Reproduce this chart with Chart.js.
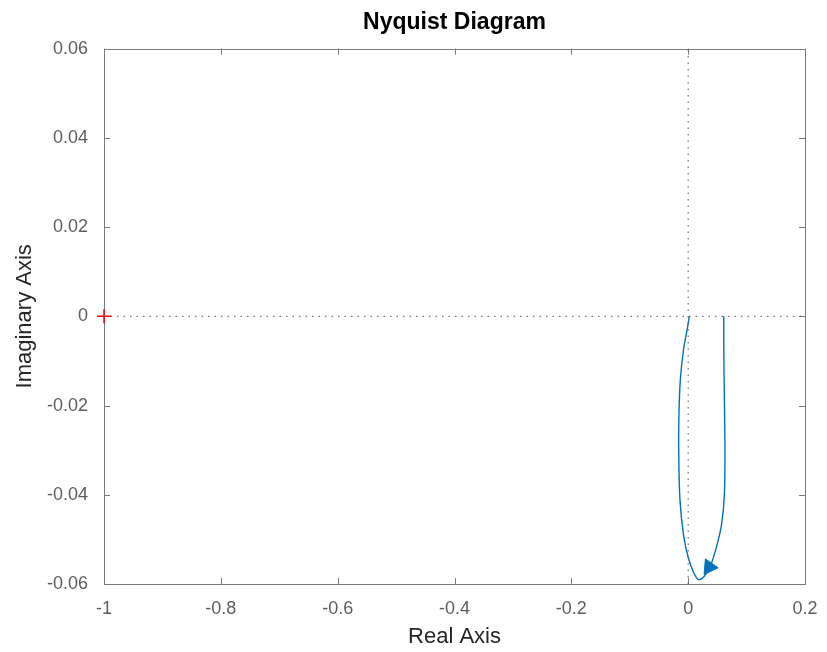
<!DOCTYPE html>
<html>
<head>
<meta charset="utf-8">
<script src="https://cdn.jsdelivr.net/npm/chart.js@4.4.1/dist/chart.umd.min.js"></script>
<style>
  html, body { margin: 0; padding: 0; background: #fff; }
  #wrap { width: 827px; height: 652px; }
</style>
</head>
<body>
<div id="wrap"><canvas id="nyq"></canvas></div>
<script>
// Nyquist curve (real / imaginary parts)
const nyqRe = [0.002, -0.001, -0.008, -0.0134, -0.016, -0.016, -0.014, -0.008, 0.000, 0.009, 0.0175, 0.028, 0.038, 0.048, 0.057, 0.062, 0.063, 0.062, 0.061, 0.061];
const nyqIm = [0, -0.0024, -0.0075, -0.0142, -0.0232, -0.0322, -0.0412, -0.0490, -0.0540, -0.0573, -0.0590, -0.0582, -0.0560, -0.0519, -0.0468, -0.0400, -0.0299, -0.0187, -0.0075, 0];
const arrowRe = [0.036];
const arrowIm = [-0.0562];
const criticalRe = [-1];
const criticalIm = [0];

const xTicks = [-1, -0.8, -0.6, -0.4, -0.2, 0, 0.2];
const xTickLabels = ['-1', '-0.8', '-0.6', '-0.4', '-0.2', '0', '0.2'];
const yTicks = [-0.06, -0.04, -0.02, 0, 0.02, 0.04, 0.06];
const yTickLabels = ['-0.06', '-0.04', '-0.02', '0', '0.02', '0.04', '0.06'];

const FONT = "'Liberation Sans', Arial, Helvetica, sans-serif";
const toPts = (xs, ys) => xs.map((v, i) => ({ x: v, y: ys[i] }));

// MATLAB style box with inward tick marks on all four sides
const boxPlugin = {
    id: 'matlabBox',
    beforeDatasetsDraw(chart) {
        const { ctx, chartArea: a, scales: { x, y } } = chart;
        ctx.save();
        ctx.strokeStyle = '#7a7a7a';
        ctx.lineWidth = 1;
        ctx.strokeRect(Math.round(a.left) + 0.5, Math.round(a.top) + 0.5,
            Math.round(a.right - a.left), Math.round(a.bottom - a.top));
        ctx.beginPath();
        xTicks.forEach(v => {
            const px = Math.round(x.getPixelForValue(v)) + 0.5;
            ctx.moveTo(px, a.bottom); ctx.lineTo(px, a.bottom - 6);
            ctx.moveTo(px, a.top); ctx.lineTo(px, a.top + 6);
        });
        yTicks.forEach(v => {
            const py = Math.round(y.getPixelForValue(v)) + 0.5;
            ctx.moveTo(a.left, py); ctx.lineTo(a.left + 6, py);
            ctx.moveTo(a.right, py); ctx.lineTo(a.right - 6, py);
        });
        ctx.stroke();
        ctx.restore();
    }
};

new Chart(document.getElementById('nyq'), {
    type: 'scatter',
    data: {
        datasets: [
            {
                label: 'zero-im',
                data: [{ x: -1, y: 0 }, { x: 0.2, y: 0 }],
                showLine: true, pointRadius: 0,
                borderColor: '#555', borderWidth: 1, borderDash: [1.5, 5]
            },
            {
                label: 'zero-re',
                data: [{ x: 0, y: -0.06 }, { x: 0, y: 0.06 }],
                showLine: true, pointRadius: 0,
                borderColor: '#555', borderWidth: 1, borderDash: [1.5, 5]
            },
            {
                label: 'nyquist',
                data: toPts(nyqRe, nyqIm),
                showLine: true, pointRadius: 0, tension: 0.3,
                borderColor: '#0072BD', borderWidth: 1.4
            },
            {
                label: 'arrow',
                data: toPts(arrowRe, arrowIm),
                pointStyle: 'triangle', pointRadius: 9, rotation: 95,
                backgroundColor: '#0072BD', borderColor: '#0072BD', borderWidth: 1
            },
            {
                label: 'critical',
                data: toPts(criticalRe, criticalIm),
                pointStyle: 'cross', pointRadius: 7, clip: false,
                borderColor: '#ff0000', borderWidth: 1.5
            }
        ]
    },
    options: {
        responsive: true,
        maintainAspectRatio: false,
        animation: false,
        events: [],
        layout: { padding: { left: 0, right: 22, top: 0, bottom: 0 } },
        plugins: {
            legend: { display: false },
            tooltip: { enabled: false },
            title: {
                display: true,
                fullSize: false,
                text: 'Nyquist Diagram',
                color: '#000',
                font: { family: FONT, size: 23, weight: 'bold' },
                padding: { top: 9, bottom: 12 }
            }
        },
        scales: {
            x: {
                type: 'linear', min: -1, max: 0.2,
                afterBuildTicks: s => { s.ticks = xTicks.map(v => ({ value: v })); },
                afterFit: s => { s.height = 68; },
                grid: { display: false },
                border: { display: false },
                ticks: {
                    color: '#5e5e5e', padding: 6,
                    font: { family: FONT, size: 18 },
                    callback: (v, i) => xTickLabels[i]
                },
                title: {
                    display: true, text: 'Real Axis', color: '#262626',
                    font: { family: FONT, size: 22 },
                    padding: { top: 0, bottom: 2 }
                }
            },
            y: {
                type: 'linear', min: -0.06, max: 0.06,
                afterBuildTicks: s => { s.ticks = yTicks.map(v => ({ value: v })); },
                afterFit: s => { s.width = 104; },
                grid: { display: false },
                border: { display: false },
                ticks: {
                    color: '#5e5e5e', padding: 8,
                    font: { family: FONT, size: 18 },
                    callback: (v, i) => yTickLabels[i]
                },
                title: {
                    display: true, text: 'Imaginary Axis', color: '#262626',
                    font: { family: FONT, size: 22 },
                    padding: { top: 12, bottom: 0 }
                }
            }
        }
    },
    plugins: [boxPlugin]
});
</script>
</body>
</html>
